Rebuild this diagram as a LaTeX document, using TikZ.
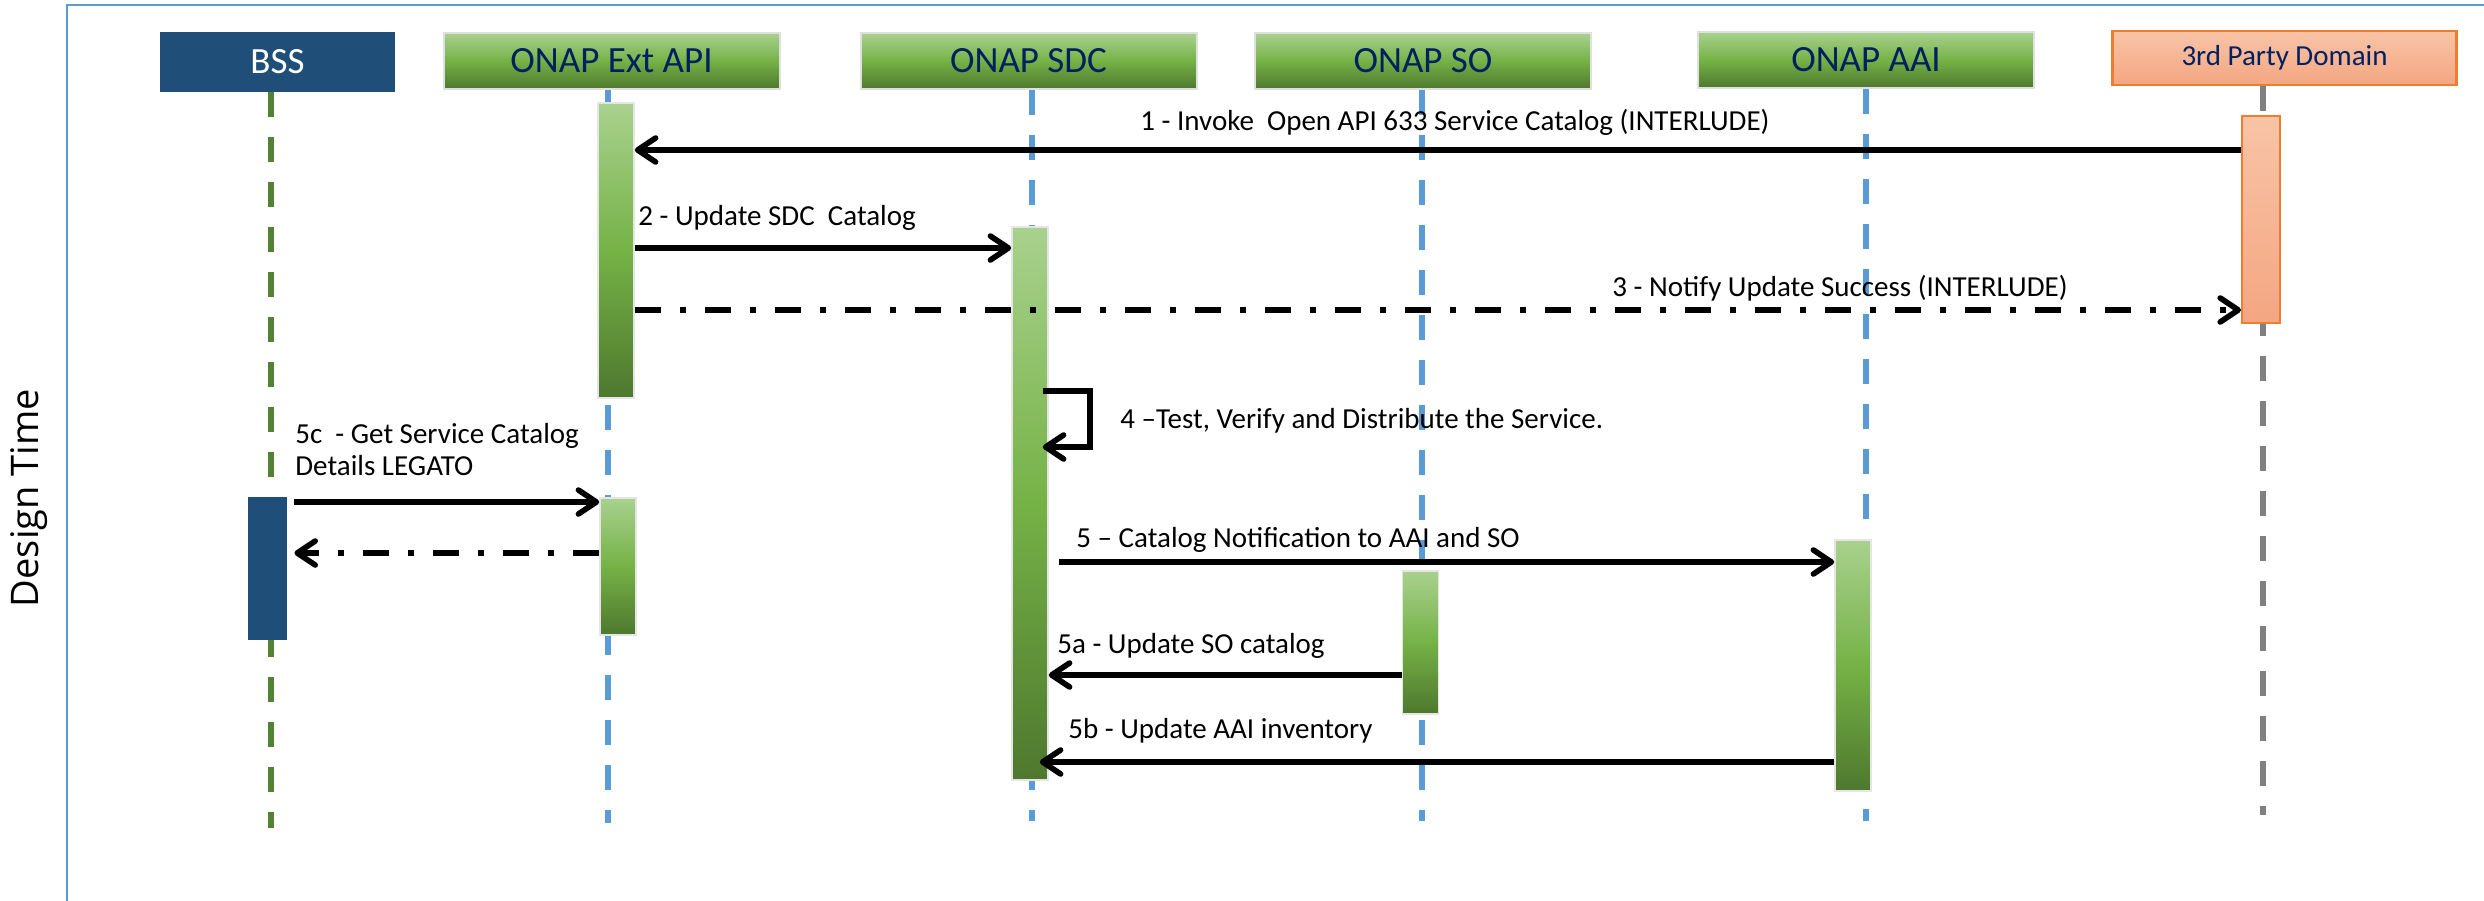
\documentclass[tikz,border=0pt]{standalone}
\usepackage{fontspec}
\setmainfont{Carlito}
\newfontfamily\sidefont{Open Sans}
\usepackage{tikz}
\usetikzlibrary{arrows.meta,positioning}

\definecolor{frameblue}{RGB}{91,155,213}
\definecolor{bssblue}{RGB}{31,78,121}
\definecolor{navytext}{RGB}{0,32,96}
\definecolor{greentop}{RGB}{169,209,142}
\definecolor{greenmid}{RGB}{117,178,70}
\definecolor{greenbot}{RGB}{78,120,46}
\definecolor{lifegreen}{RGB}{84,130,53}
\definecolor{lifeblue}{RGB}{91,155,213}
\definecolor{lifegray}{RGB}{128,128,128}
\definecolor{salmontop}{RGB}{248,196,166}
\definecolor{salmonbot}{RGB}{244,166,130}
\definecolor{orangeedge}{RGB}{237,125,49}

\begin{document}
\begin{tikzpicture}[
    x=0.5pt,
    y=-0.5pt,
    header/.style={
        rectangle,
        draw=black!12,
        line width=1pt,
        top color=greentop,
        bottom color=greenbot,
        middle color=greenmid,
        text=navytext,
        font=\fontsize{18.5}{22}\selectfont,
        minimum width=168pt,
        minimum height=28pt,
        inner sep=0pt
    },
    bsshead/.style={
        rectangle,
        fill=bssblue,
        text=white,
        font=\fontsize{18.5}{22}\selectfont,
        minimum width=117.5pt,
        minimum height=30pt,
        inner sep=0pt
    },
    thirdhead/.style={
        rectangle,
        draw=orangeedge,
        line width=1.2pt,
        top color=salmontop,
        bottom color=salmonbot,
        text=navytext,
        font=\fontsize{14.5}{17}\selectfont,
        minimum width=172pt,
        minimum height=27pt,
        inner sep=0pt
    },
    bar/.style={
        rectangle,
        draw=black!10,
        line width=0.8pt,
        top color=greentop,
        bottom color=greenbot,
        middle color=greenmid,
        minimum width=18pt,
        inner sep=0pt
    },
    bssbar/.style={
        rectangle,
        fill=bssblue,
        minimum width=19.5pt,
        inner sep=0pt
    },
    thirdbar/.style={
        rectangle,
        draw=orangeedge,
        line width=1pt,
        top color=salmontop,
        bottom color=salmonbot,
        minimum width=19pt,
        inner sep=0pt
    },
    lifeline/.style={
        line width=3pt,
        dash pattern=on 12.5pt off 10pt
    },
    msg/.style={
        line width=2.8pt,
        -{Straight Barb[length=9pt,width=12pt,round]}
    },
    reply/.style={
        msg,
        dash pattern=on 13pt off 9.5pt on 3pt off 9.5pt
    },
    msgtext/.style={
        anchor=base west,
        inner sep=0pt,
        font=\fontsize{14.5}{17}\selectfont
    }
]
\useasboundingbox (0,0) rectangle (2484,900);

% Rahmen und Beschriftung
\draw[frameblue, line width=1.2pt] (67,910) -- (67,5) -- (2490,5);
\node[rotate=90, anchor=base, inner sep=0pt, font=\sidefont\fontsize{19}{23}\selectfont] (design) at (39,498) {Design Time};

% Teilnehmer
\node[bsshead] (bss) at (277.5,62) {BSS};
\node[header] (extapi) at (611.5,61) {ONAP Ext API};
\node[header] (sdc) at (1028.5,61) {ONAP SDC};
\node[header] (so) at (1423,61) {ONAP SO};
\node[header] (aai) at (1866,60) {ONAP AAI};
\node[thirdhead] (third) at (2284.5,58) {3rd Party Domain};

% Lebenslinien
\coordinate (bssend) at (271,828);
\coordinate (extend) at (608,823);
\coordinate (sdcend) at (1032,821);
\coordinate (soend) at (1422,821);
\coordinate (aaiend) at (1866,821);
\coordinate (thirdend) at (2263,815);

\draw[lifeline, lifegreen] (bss.south -| bssend) -- (bssend);
\draw[lifeline, lifeblue] (extapi.south -| extend) -- (extend);
\draw[lifeline, lifeblue] (sdc.south -| sdcend) -- (sdcend);
\draw[lifeline, lifeblue] (so.south -| soend) -- (soend);
\draw[lifeline, lifeblue] (aai.south -| aaiend) -- (aaiend);
\draw[lifeline, lifegray] (third.south -| thirdend) -- (thirdend);

% Aktivierungsbalken
\node[bar, minimum height=147.5pt] (extbar1) at (616,250.5) {};
\node[bar, minimum height=68.5pt] (extbar2) at (618,566.5) {};
\node[bssbar, minimum height=71.5pt] (bssbar) at (267.5,568.5) {};
\node[bar, minimum height=276.5pt] (sdcbar) at (1030,503.5) {};
\node[bar, minimum height=71.5pt] (sobar) at (1420.5,642.5) {};
\node[bar, minimum height=125.5pt] (aaibar) at (1853,665.5) {};
\node[thirdbar, minimum height=103.5pt] (thirdbar) at (2261,219.5) {};

% Nachrichtenebenen
\coordinate (m1) at (0,150);
\coordinate (m2) at (0,248);
\coordinate (m3) at (0,310);
\coordinate (s4a) at (1090,391);
\coordinate (s4b) at (1090,447);
\coordinate (m5c) at (0,502);
\coordinate (m5r) at (0,553);
\coordinate (m5) at (0,562);
\coordinate (m5a) at (0,675);
\coordinate (m5b) at (0,762);

% Nachrichten
\draw[msg] (thirdbar.west |- m1) -- (extbar1.east |- m1);
\draw[msg] (extbar1.east |- m2) -- (sdcbar.west |- m2);
\draw[reply] (extbar1.east |- m3) -- (thirdbar.west |- m3);
\draw[msg] ([xshift=-3pt]sdcbar.east |- s4a) -- (s4a) -- (s4b) -- ([xshift=-3pt]sdcbar.east |- s4b);
\draw[msg] ([xshift=3.5pt]bssbar.east |- m5c) -- (extbar2.west |- m5c);
\draw[reply] (extbar2.west |- m5r) -- ([xshift=3.5pt]bssbar.east |- m5r);
\draw[msg] ([xshift=5pt]sdcbar.east |- m5) -- (aaibar.west |- m5);
\draw[msg] (sobar.west |- m5a) -- (sdcbar.east |- m5a);
\draw[msg] (aaibar.west |- m5b) -- ([xshift=-4.5pt]sdcbar.east |- m5b);

% Beschriftungen
\node[msgtext] (l1) at (1140,130) {1 - Invoke\ \ Open API 633 Service Catalog (INTERLUDE)};
\node[msgtext] (l2) at (638,225) {2 - Update SDC\ \ Catalog};
\node[msgtext] (l3) at (1612,296) {3 - Notify Update Success (INTERLUDE)};
\node[msgtext] (l4) at (1120,428) {4 –Test, Verify and Distribute the Service.};
\node[msgtext] (l5c) at (295,443) {5c\ \ - Get Service Catalog};
\node[msgtext] (l5cb) at (295,475) {Details LEGATO};
\node[msgtext] (l5) at (1076,547) {5 – Catalog Notification to AAI and SO};
\node[msgtext] (l5a) at (1057,653) {5a - Update SO catalog};
\node[msgtext] (l5b) at (1068,738) {5b - Update AAI inventory};

\end{tikzpicture}
\end{document}
